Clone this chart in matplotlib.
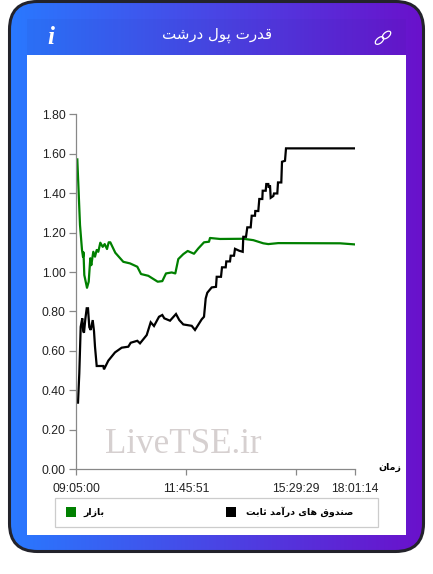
import numpy as np
import matplotlib
matplotlib.use("Agg")
import matplotlib.pyplot as plt
from matplotlib.patches import FancyBboxPatch, Rectangle, Ellipse

TITLE = "قدرت پول درشت"
X_LABEL = "زمان"
MARKET_LABEL = "بازار"
FUND_LABEL = "صندوق های درآمد ثابت"

tick_pos = [0, 110, 220, 279]
tick_labels = ["09:05:00", "11:45:51", "15:29:29", "18:01:14"]
y_ticks = [0.0, 0.2, 0.4, 0.6, 0.8, 1.0, 1.2, 1.4, 1.6, 1.8]

# sample number along the axis, value
market_x = [1.3, 4, 6, 7, 7.5, 8.3, 9.7, 11, 12.7, 14.3, 15.3, 17.3, 19, 20.7, 22.3, 24.3, 26.7,
            28.7, 31, 32.7, 34.3, 39.3, 47.3, 54, 61.3, 65, 72.3, 81.7, 86.3, 90, 95.7, 99.3,
            102.3, 107.3, 111.7, 118, 122.3, 128, 133, 134, 144, 167.3, 177.3, 187.3, 192.3,
            202.3, 264, 279.7]
market_y = [1.572, 1.239, 1.112, 1.078, 1.10, 0.985, 0.951, 0.92, 0.951, 1.07, 1.035, 1.103,
            1.078, 1.112, 1.103, 1.149, 1.128, 1.142, 1.117, 1.151, 1.151, 1.098, 1.052, 1.044,
            1.027, 0.99, 0.981, 0.951, 0.954, 0.993, 0.998, 0.993, 1.066, 1.091, 1.107, 1.093,
            1.12, 1.151, 1.154, 1.173, 1.168, 1.169, 1.162, 1.146, 1.142, 1.147, 1.146, 1.14]

fund_x = [0.7, 2, 3.3, 4.7, 6.3, 7.2, 8, 9.3, 10.7, 12, 13.3, 14.7, 16.7, 18, 19, 20.7, 27.3, 28, 32.3,
          39, 45.7, 52.3, 54.7, 61.3, 64, 70.7, 74.7, 78, 83, 86.3, 88.3, 94, 100, 103.3,
          107.3, 115.7, 119, 125.7, 128, 129.7, 131.3, 135.7, 140, 140.7, 145, 146, 149.7,
          150.3, 154, 154.7, 158, 159, 163.3, 166.7, 167.3, 170, 171.3, 174.7, 175.7, 179,
          179.3, 182.3, 183.3, 186.3, 186.7, 189.7, 190.3, 192.3, 192.7, 194, 194.7, 197.3,
          198, 201.3, 202, 205.3, 206, 209, 210, 279.7]
fund_y = [0.337, 0.337, 0.486, 0.722, 0.765, 0.70, 0.692, 0.76, 0.816, 0.816, 0.72, 0.706, 0.756, 0.70, 0.621,
          0.523, 0.523, 0.506, 0.55, 0.592, 0.616, 0.621, 0.641, 0.651, 0.638, 0.68, 0.745,
          0.726, 0.773, 0.782, 0.765, 0.753, 0.787, 0.756, 0.734, 0.727, 0.706, 0.76, 0.773,
          0.866, 0.895, 0.922, 0.925, 0.976, 0.976, 1.024, 1.024, 1.054, 1.054, 1.083, 1.083,
          1.118, 1.108, 1.103, 1.179, 1.179, 1.227, 1.227, 1.286, 1.286, 1.31, 1.31, 1.371,
          1.371, 1.413, 1.413, 1.447, 1.447, 1.428, 1.44, 1.377, 1.386, 1.399, 1.399, 1.455,
          1.455, 1.56, 1.565, 1.628, 1.628]

FORMS = {
    "ق": "\ufed5\ufed6\ufed7\ufed8", "ت": "\ufe95\ufe96\ufe97\ufe98", "پ": "\ufb56\ufb57\ufb58\ufb59",
    "ل": "\ufedd\ufede\ufedf\ufee0", "ش": "\ufeb5\ufeb6\ufeb7\ufeb8", "ص": "\ufeb9\ufeba\ufebb\ufebc",
    "ن": "\ufee5\ufee6\ufee7\ufee8", "ه": "\ufee9\ufeea\ufeeb\ufeec", "ی": "\ufbfc\ufbfd\ufbfe\ufbff",
    "م": "\ufee1\ufee2\ufee3\ufee4", "ث": "\ufe99\ufe9a\ufe9b\ufe9c", "ب": "\ufe8f\ufe90\ufe91\ufe92",
    "د": "\ufea9\ufeaa", "ر": "\ufead\ufeae", "و": "\ufeed\ufeee", "ا": "\ufe8d\ufe8e",
    "آ": "\ufe81\ufe82", "ز": "\ufeaf\ufeb0",
}


def shape(text):
    # matplotlib does no arabic joining, so pick the glyph forms and flip the order
    out = []
    for i, c in enumerate(text):
        if c not in FORMS:
            out.append(c)
            continue
        prev = text[i - 1] if i else " "
        nxt = text[i + 1] if i + 1 < len(text) else " "
        joins_prev = prev in FORMS and len(FORMS[prev]) == 4
        joins_next = nxt in FORMS and len(FORMS[c]) == 4
        forms = FORMS[c]
        if joins_prev and joins_next:
            out.append(forms[3])
        elif joins_prev:
            out.append(forms[1])
        elif joins_next:
            out.append(forms[2])
        else:
            out.append(forms[0])
    return "".join(reversed(out))


fig = plt.figure(figsize=(4.33, 5.74), dpi=100)

bg = fig.add_axes([0, 0, 1, 1], zorder=0)
bg.axis("off")

left = np.array([41, 121, 255])
right = np.array([106, 17, 203])
ramp = np.linspace(0, 1, 416)[None, :, None]
grad = (left + (right - left) * ramp) / 255
im = bg.imshow(grad, extent=(9, 424, 552, 1), aspect="auto", zorder=1)
bg.set_xlim(0, 433)
bg.set_ylim(574, 0)
frame = FancyBboxPatch((9.5, 1.5), 414, 550, boxstyle="round,pad=0,rounding_size=28",
                       facecolor="none", edgecolor="#23232b", linewidth=2.2, zorder=2)
bg.add_patch(frame)
im.set_clip_path(frame)
bg.add_patch(Rectangle((27, 19), 379, 36, facecolor="#1a237e", alpha=0.05, edgecolor="none", zorder=2))
bg.add_patch(Rectangle((27, 55), 379, 480, facecolor="white", edgecolor="none", zorder=3))

bg.text(217, 35, shape(TITLE), color="white", fontsize=10.8, family="DejaVu Sans",
        ha="center", va="center", zorder=4)
bg.text(51, 37, "i", color="white", fontsize=18, family="Liberation Serif", weight="bold",
        style="italic", ha="center", va="center", zorder=4)
bg.add_patch(Ellipse((379.5, 40.5), 10, 5.5, angle=-40, facecolor="none", edgecolor="white", linewidth=0.9, zorder=4))
bg.add_patch(Ellipse((386.5, 35), 10, 5.5, angle=-40, facecolor="none", edgecolor="white", linewidth=0.9, zorder=4))

bg.text(105, 453, "LiveTSE.ir", color="#d6d0d0", fontsize=25.2, family="Liberation Serif",
        ha="left", va="baseline", zorder=4)

# legend
bg.add_patch(Rectangle((54.5, 497.5), 323, 29, facecolor="white", edgecolor="#cccccc", linewidth=0.9, zorder=4))
bg.add_patch(Rectangle((66, 507), 10, 10, facecolor="green", edgecolor="none", zorder=5))
bg.add_patch(Rectangle((226, 507), 10, 10, facecolor="black", edgecolor="none", zorder=5))
bg.text(94, 512, shape(MARKET_LABEL), fontsize=6.8, weight="bold", family="DejaVu Sans",
        ha="center", va="center", zorder=5)
bg.text(246, 512, shape(FUND_LABEL), fontsize=6.8, weight="bold", family="DejaVu Sans",
        ha="left", va="center", zorder=5)
bg.text(390, 467, shape(X_LABEL), fontsize=6.8, weight="bold", family="DejaVu Sans",
        ha="center", va="center", zorder=5)

ax = fig.add_axes([76 / 433, 1 - 469 / 574, 279 / 433, 354.5 / 574], zorder=1)
ax.patch.set_alpha(0)
ax.plot(market_x, market_y, color="green", linewidth=1.6, solid_joinstyle="round")
ax.plot(fund_x, fund_y, color="black", linewidth=1.6, solid_joinstyle="miter")
ax.set_xlim(0, 279)
ax.set_ylim(0, 1.8)
ax.set_xticks(tick_pos, tick_labels, family="Liberation Sans", fontsize=8.8)
ax.set_yticks(y_ticks, [f"{v:.2f}" for v in y_ticks], family="Liberation Sans", fontsize=8.8)
ax.tick_params(axis="x", color="#888888", length=4, width=0.9, pad=6, labelcolor="#222222")
ax.tick_params(axis="y", color="#888888", length=5, width=0.9, pad=2.5, labelcolor="#222222")
for side in ["top", "right"]:
    ax.spines[side].set_visible(False)
for side in ["left", "bottom"]:
    ax.spines[side].set_color("#888888")
    ax.spines[side].set_linewidth(0.9)

fig.savefig("out.png", dpi=100)
